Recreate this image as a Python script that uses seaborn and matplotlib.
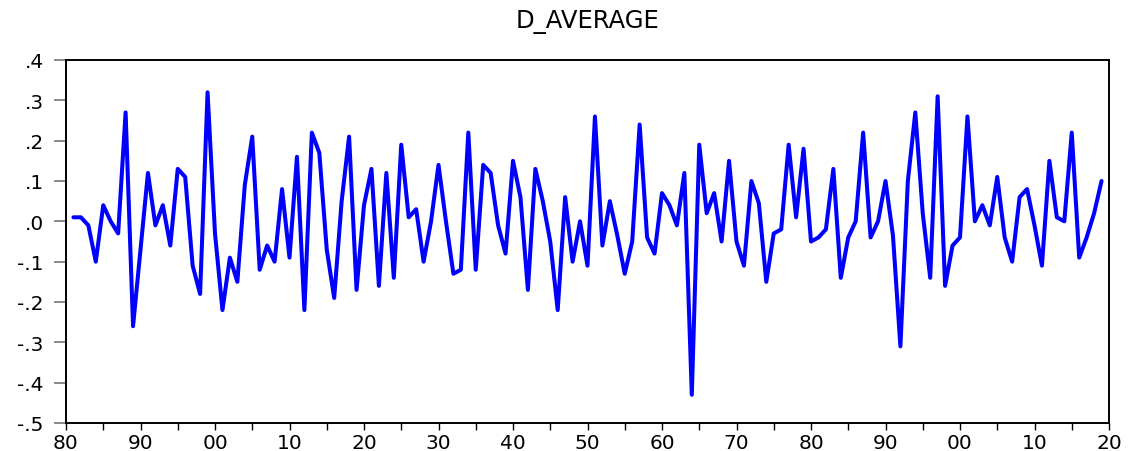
import numpy as np
import pandas as pd
import matplotlib
matplotlib.use("Agg")
import matplotlib.pyplot as plt
import seaborn as sns

years = list(range(1881, 2020))
d_average = [
    0.01, 0.01, -0.01, -0.10, 0.04, 0.00, -0.03, 0.27, -0.26,          # 1881-1889
    -0.07, 0.12, -0.01, 0.04, -0.06, 0.13, 0.11, -0.11, -0.18, 0.32,   # 1890-1899
    -0.03, -0.22, -0.09, -0.15, 0.09, 0.21, -0.12, -0.06, -0.10, 0.08, # 1900-1909
    -0.09, 0.16, -0.22, 0.22, 0.17, -0.07, -0.19, 0.05, 0.21, -0.17,   # 1910-1919
    0.04, 0.13, -0.16, 0.12, -0.14, 0.19, 0.01, 0.03, -0.10, 0.00,     # 1920-1929
    0.14, 0.00, -0.13, -0.12, 0.22, -0.12, 0.14, 0.12, -0.01, -0.08,   # 1930-1939
    0.15, 0.06, -0.17, 0.13, 0.05, -0.05, -0.22, 0.06, -0.10, 0.00,    # 1940-1949
    -0.11, 0.26, -0.06, 0.05, -0.035, -0.13, -0.05, 0.24, -0.04, -0.08,# 1950-1959
    0.07, 0.04, -0.01, 0.12, -0.43, 0.19, 0.02, 0.07, -0.05, 0.15,     # 1960-1969
    -0.05, -0.11, 0.10, 0.045, -0.15, -0.03, -0.02, 0.19, 0.01, 0.18,  # 1970-1979
    -0.05, -0.04, -0.02, 0.13, -0.14, -0.04, 0.00, 0.22, -0.04, 0.00,  # 1980-1989
    0.10, -0.035, -0.31, 0.10, 0.27, 0.02, -0.14, 0.31, -0.16, -0.06,  # 1990-1999
    -0.04, 0.26, 0.00, 0.04, -0.01, 0.11, -0.04, -0.10, 0.06, 0.08,    # 2000-2009
    -0.01, -0.11, 0.15, 0.01, 0.00, 0.22, -0.09, -0.04, 0.02, 0.10,    # 2010-2019
]

x_ticks = list(range(1880, 2021, 10))
x_tick_labels = ["80", "90", "00", "10", "20", "30", "40", "50",
                 "60", "70", "80", "90", "00", "10", "20"]
y_ticks = [0.4, 0.3, 0.2, 0.1, 0.0, -0.1, -0.2, -0.3, -0.4, -0.5]
y_tick_labels = [".4", ".3", ".2", ".1", ".0", "-.1", "-.2", "-.3", "-.4", "-.5"]

df = pd.DataFrame({"year": years, "value": d_average})

sns.set_theme(style="white")
plt.rcParams["font.family"] = ["DejaVu Sans"]
plt.rcParams["text.color"] = "black"
plt.rcParams["xtick.color"] = "black"
plt.rcParams["ytick.color"] = "black"

fig = plt.figure(figsize=(11.28, 4.52), dpi=100)
ax = fig.add_axes([66 / 1128, 1 - 424 / 452, (1109 - 66) / 1128, (424 - 61) / 452])

sns.lineplot(data=df, x="year", y="value", ax=ax, color="#0000FF", linewidth=2.9)

ax.set_xlim(1880, 2020)
ax.set_ylim(-0.5, 0.4)
ax.set_xticks(x_ticks)
ax.set_xticklabels(x_tick_labels)
ax.set_xticks(list(range(1885, 2020, 10)), minor=True)
ax.set_yticks(y_ticks)
ax.set_yticklabels(y_tick_labels)
ax.set_xlabel("")
ax.set_ylabel("")

ax.tick_params(axis="x", which="both", direction="out", length=5, width=1,
               color="black", labelcolor="black", pad=2, labelsize=14.5,
               bottom=True, top=False)
ax.tick_params(axis="y", which="major", direction="out", length=9, width=1.2,
               color="#777777", labelcolor="black", pad=7, labelsize=14.5,
               left=True, right=False)

for s in ax.spines.values():
    s.set_color("black")
    s.set_linewidth(1.4)
    s.set_visible(True)

fig.text((66 + 1109) / 2 / 1128, 1 - 22 / 452, "D_AVERAGE",
         ha="center", va="center", fontsize=17.5, color="black")

fig.savefig("out.png", dpi=100)
